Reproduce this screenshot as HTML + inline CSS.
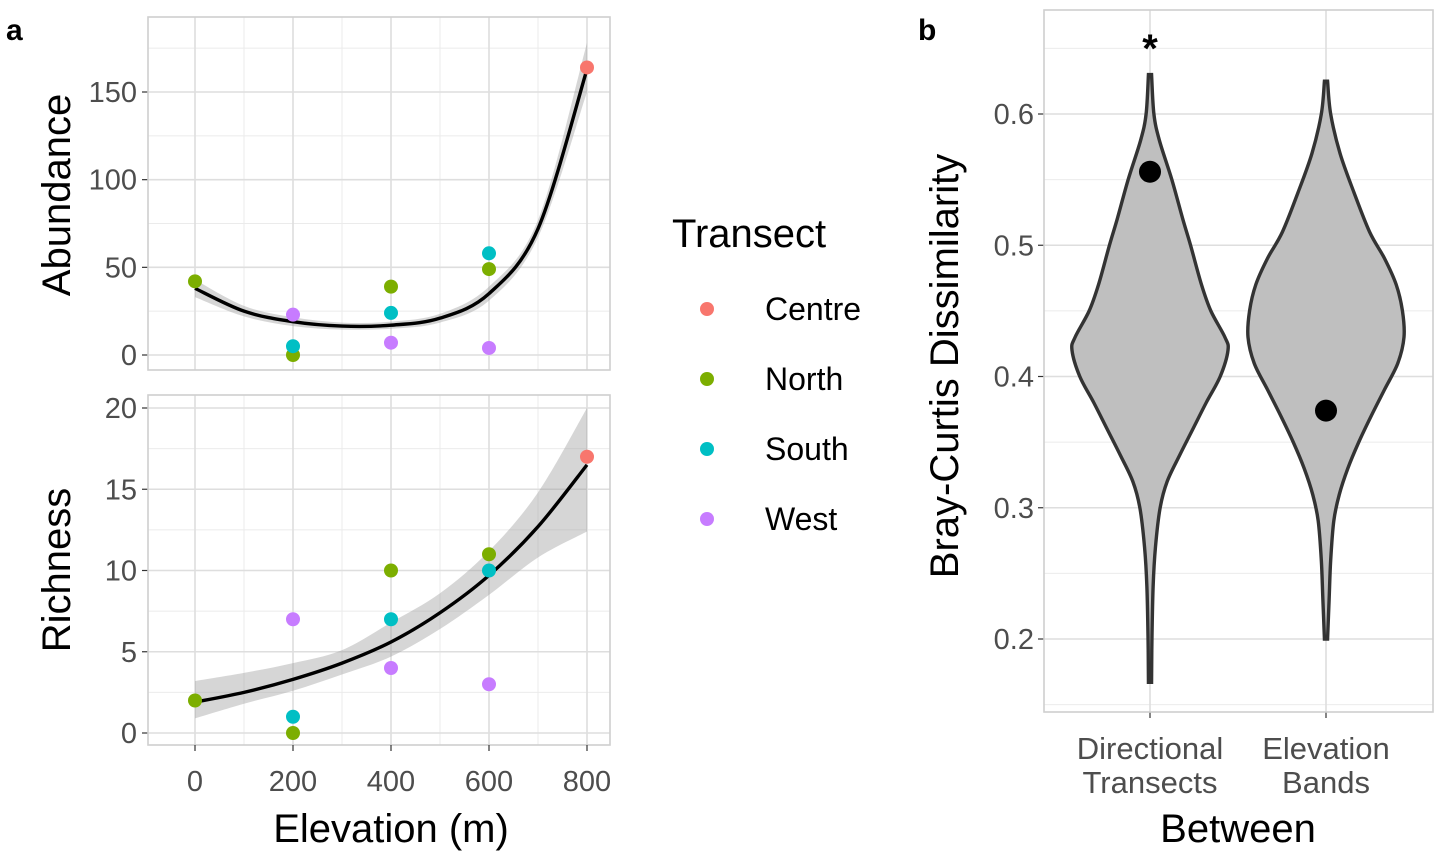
<!DOCTYPE html>
<html><head><meta charset="utf-8"><style>
body{margin:0;background:#fff;}
svg{display:block;font-family:"Liberation Sans",Arial,sans-serif;}
</style></head><body>
<svg id="c" width="1441" height="863" viewBox="0 0 1441 863" xmlns="http://www.w3.org/2000/svg"></svg>
<script>
// ---------- data ----------
const transects = ["Centre","North","South","West"];
const colors = ["#F8766D","#7CAE00","#00BFC4","#C77CFF"];
const abundPts = [
  [[800,164]],
  [[0,42],[200,0],[400,39],[600,49]],
  [[200,5],[400,24],[600,58]],
  [[200,23],[400,7],[600,4]]
];
const richPts = [
  [[800,17]],
  [[0,2],[200,0],[400,10],[600,11]],
  [[200,1],[400,7],[600,10]],
  [[200,7],[400,4],[600,3]]
];
const fitX = [0,100,200,300,400,500,600,700,800];
const abundFit = [38,25,19,16.5,17,21,35,72,163];
const abundLo = [33,22,16.5,14.5,15,18.5,31,67,150];
const abundHi = [43,28,21.5,18.5,19,23.5,39,77,178];
const richFit = [1.9,2.5,3.3,4.3,5.6,7.4,9.7,12.7,16.5];
const richLo = [0.9,1.8,2.6,3.6,4.7,6.4,8.5,10.8,12.4];
const richHi = [3.2,3.7,4.3,5.1,6.8,8.6,11.2,14.8,20.0];
const elevTicks = [0,200,400,600,800];
const abundTicks = [0,50,100,150];
const richTicks = [0,5,10,15,20];
const bcTicks = [0.2,0.3,0.4,0.5,0.6];
const categories = ["Directional Transects","Elevation Bands"];
const violinY1 = [0.63,0.60,0.58,0.55,0.52,0.50,0.47,0.45,0.43,0.42,0.40,0.38,0.36,0.34,0.32,0.30,0.27,0.24,0.20,0.167];
const violinW1 = [0.02,0.05,0.12,0.28,0.42,0.52,0.66,0.78,0.96,1.0,0.9,0.72,0.55,0.38,0.22,0.13,0.07,0.04,0.025,0.02];
const violinY2 = [0.625,0.60,0.57,0.54,0.51,0.49,0.47,0.45,0.43,0.41,0.39,0.37,0.35,0.33,0.31,0.29,0.26,0.23,0.20];
const violinW2 = [0.02,0.06,0.18,0.36,0.56,0.75,0.9,0.98,1.0,0.92,0.75,0.58,0.42,0.28,0.17,0.10,0.06,0.04,0.02];
const observed = [0.556,0.374];

// ---------- helpers ----------
const svg = document.getElementById('c');
const NS = "http://www.w3.org/2000/svg";
function mk(tag, attrs, parent, txt){
  const e = document.createElementNS(NS, tag);
  for (const k in attrs) e.setAttribute(k, attrs[k]);
  if (txt !== undefined) e.textContent = txt;
  (parent||svg).appendChild(e);
  return e;
}
function lin(d0,d1,r0,r1){return v=>r0+(v-d0)*(r1-r0)/(d1-d0);}
function smooth(pts){
  let d = "M"+pts[0][0]+","+pts[0][1];
  for(let i=0;i<pts.length-1;i++){
    const p0=pts[Math.max(i-1,0)],p1=pts[i],p2=pts[i+1],p3=pts[Math.min(i+2,pts.length-1)];
    const c1=[p1[0]+(p2[0]-p0[0])/6,p1[1]+(p2[1]-p0[1])/6];
    const c2=[p2[0]-(p3[0]-p1[0])/6,p2[1]-(p3[1]-p1[1])/6];
    d+=" C"+c1[0]+","+c1[1]+" "+c2[0]+","+c2[1]+" "+p2[0]+","+p2[1];
  }
  return d;
}
function smoothCont(pts){return smooth(pts).slice(1).replace(/^[^C]*/,"");}

const TICK_FS = 29, TITLE_FS = 40;
const gx = lin(0,800,195,587);
const PX0=148, PX1=610;
function panel(name, y0, y1, sy, ticks, minor, pts, fit, lo, hi, showX){
  const g = mk('g',{});
  
  
  mk('rect',{x:PX0,y:y0,width:PX1-PX0,height:y1-y0,fill:'#fff'},g);
  [100,300,500,700].forEach(v=>mk('line',{x1:gx(v),x2:gx(v),y1:y0,y2:y1,stroke:'#ebebeb','stroke-width':1},g));
  minor.forEach(v=>mk('line',{x1:PX0,x2:PX1,y1:sy(v),y2:sy(v),stroke:'#ebebeb','stroke-width':1},g));
  elevTicks.forEach(v=>mk('line',{x1:gx(v),x2:gx(v),y1:y0,y2:y1,stroke:'#dedede','stroke-width':1.6},g));
  ticks.forEach(v=>{
    mk('line',{x1:PX0,x2:PX1,y1:sy(v),y2:sy(v),stroke:'#dedede','stroke-width':1.6},g);
    mk('line',{x1:PX0-6,x2:PX0,y1:sy(v),y2:sy(v),stroke:'#333','stroke-width':1.2},g);
    const t=mk('text',{x:PX0-11,y:sy(v)+10,'text-anchor':'end','font-size':TICK_FS,fill:'#4d4d4d'},g,String(v));
    
    
  });
  const up = fitX.map((x,i)=>[gx(x),sy(hi[i])]);
  const dn = fitX.map((x,i)=>[gx(x),sy(lo[i])]).reverse();
  const band = mk('path',{d:smooth(up)+" L"+dn[0][0]+","+dn[0][1]+smoothCont(dn)+" Z",fill:'#999','fill-opacity':0.4},g);
  
  
  const line = mk('path',{d:smooth(fitX.map((x,i)=>[gx(x),sy(fit[i])])),fill:'none',stroke:'#000','stroke-width':3.4},g);
  
  
  pts.forEach((arr,si)=>arr.forEach(p=>{
    const c=mk('circle',{cx:gx(p[0]),cy:sy(p[1]),r:7,fill:colors[si]},g);
    
    
  }));
  mk('rect',{x:PX0,y:y0,width:PX1-PX0,height:y1-y0,fill:'none',stroke:'#cfcfcf','stroke-width':1.6},g);
  if(showX){
    elevTicks.forEach(v=>{
      mk('line',{x1:gx(v),x2:gx(v),y1:y1,y2:y1+6,stroke:'#333','stroke-width':1.2},g);
      const t=mk('text',{x:gx(v),y:y1+46,'text-anchor':'middle','font-size':TICK_FS,fill:'#4d4d4d'},g,String(v));
      
      
    });
  }
}
const sA = lin(0,150,355,92);
panel('abundance',17,370,sA,abundTicks,[25,75,125,175],abundPts,abundFit,abundLo,abundHi,false);
const sR = lin(0,20,733,408);
panel('richness',395,745,sR,richTicks,[2.5,7.5,12.5,17.5],richPts,richFit,richLo,richHi,true);

let t;
t=mk('text',{x:0,y:0,'font-size':TITLE_FS,fill:'#000','text-anchor':'middle',transform:'translate(70,195) rotate(-90)'},svg,'Abundance');

t=mk('text',{x:0,y:0,'font-size':TITLE_FS,fill:'#000','text-anchor':'middle',transform:'translate(70,570) rotate(-90)'},svg,'Richness');

t=mk('text',{x:391,y:842,'font-size':TITLE_FS,fill:'#000','text-anchor':'middle'},svg,'Elevation (m)');

t=mk('text',{x:6,y:40,'font-size':30,'font-weight':'bold',fill:'#000'},svg,'a');

t=mk('text',{x:918,y:40,'font-size':30,'font-weight':'bold',fill:'#000'},svg,'b');


// legend
t=mk('text',{x:672,y:247,'font-size':TITLE_FS,fill:'#000'},svg,'Transect');

transects.forEach((n,i)=>{
  const g=mk('g',{});
  
  
  mk('circle',{cx:707,cy:309+70*i,r:7,fill:colors[i]},g);
  mk('text',{x:765,y:320+70*i,'font-size':32,fill:'#000'},g,n);
});

// ---------- panel b ----------
const BX0=1044,BX1=1433,BY0=10,BY1=712;
const sB = lin(0.2,0.6,639,114);
const cx = [1150,1326];
const HW = 78;
const gb=mk('g',{});


[0.15,0.25,0.35,0.45,0.55,0.65].forEach(v=>mk('line',{x1:BX0,x2:BX1,y1:sB(v),y2:sB(v),stroke:'#ebebeb','stroke-width':1},gb));
bcTicks.forEach(v=>{
  mk('line',{x1:BX0,x2:BX1,y1:sB(v),y2:sB(v),stroke:'#dedede','stroke-width':1.6},gb);
  mk('line',{x1:BX0-6,x2:BX0,y1:sB(v),y2:sB(v),stroke:'#333','stroke-width':1.2},gb);
  const tt=mk('text',{x:BX0-10,y:sB(v)+10,'text-anchor':'end','font-size':TICK_FS,fill:'#4d4d4d'},gb,v.toFixed(1));
  
});
cx.forEach(x=>mk('line',{x1:x,x2:x,y1:BY0,y2:BY1,stroke:'#dedede','stroke-width':1.6},gb));
[[violinY1,violinW1],[violinY2,violinW2]].forEach((vw,i)=>{
  const right = vw[0].map((y,j)=>[cx[i]+HW*vw[1][j],sB(y)]);
  const left = vw[0].map((y,j)=>[cx[i]-HW*vw[1][j],sB(y)]).reverse();
  const p=mk('path',{d:smooth(right)+" L"+left[0][0]+","+left[0][1]+smoothCont(left)+" Z",fill:'#bfbfbf',stroke:'#333','stroke-width':3.4},gb);
  
  
  const d=mk('circle',{cx:cx[i],cy:sB(observed[i]),r:11,fill:'#000'},gb);
  
  
  mk('line',{x1:cx[i],x2:cx[i],y1:BY1,y2:BY1+6,stroke:'#333','stroke-width':1.2},gb);
  const words=categories[i].split(' ');
  words.forEach((w,k)=>{
    const tt=mk('text',{x:cx[i],y:759+34*k,'text-anchor':'middle','font-size':31,fill:'#4d4d4d'},gb,w);
    
  });
});
mk('rect',{x:BX0,y:BY0,width:BX1-BX0,height:BY1-BY0,fill:'none',stroke:'#cfcfcf','stroke-width':1.6},gb);
t=mk('text',{x:1150,y:62,'font-size':40,'font-weight':'bold','text-anchor':'middle',fill:'#000'},svg,'*');

t=mk('text',{x:0,y:0,'font-size':TITLE_FS,fill:'#000','text-anchor':'middle',transform:'translate(958,366) rotate(-90)'},svg,'Bray-Curtis Dissimilarity');

t=mk('text',{x:1238,y:842,'font-size':TITLE_FS,fill:'#000','text-anchor':'middle'},svg,'Between');

</script>
</body></html>
